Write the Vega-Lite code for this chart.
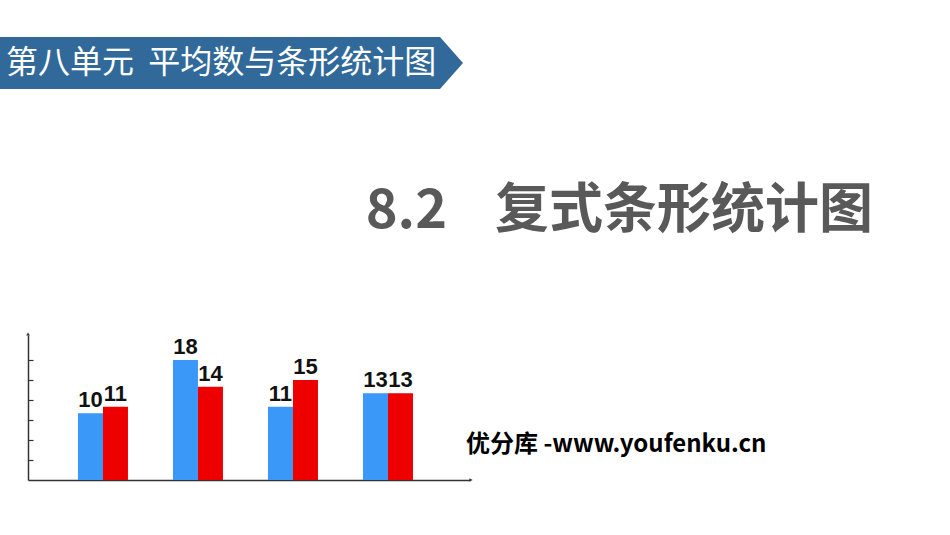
{
  "$schema": "https://vega.github.io/schema/vega-lite/v6.json",
  "autosize": "none",
  "width": 442,
  "height": 145,
  "padding": {"left": 28, "top": 335, "right": 480, "bottom": 55},
  "background": "white",
  "config": {"view": {"stroke": null}},
  "layer": [
    {
      "data": {"values": [
        {"group": "一", "series": "甲", "value": 10},
        {"group": "一", "series": "乙", "value": 11},
        {"group": "二", "series": "甲", "value": 18},
        {"group": "二", "series": "乙", "value": 14},
        {"group": "三", "series": "甲", "value": 11},
        {"group": "三", "series": "乙", "value": 15},
        {"group": "四", "series": "甲", "value": 13},
        {"group": "四", "series": "乙", "value": 13}
      ]},
      "encoding": {
        "x": {"field": "group", "type": "nominal", "sort": ["一", "二", "三", "四"],
              "scale": {"paddingInner": 0.4737, "paddingOuter": 0.563, "align": 0.467},
              "axis": {"title": null, "labels": false, "ticks": false, "domainColor": "#333333", "domainWidth": 1.5}},
        "xOffset": {"field": "series", "type": "nominal", "sort": ["甲", "乙"], "scale": {"paddingInner": 0, "paddingOuter": 0}},
        "y": {"field": "value", "type": "quantitative",
              "scale": {"domain": [0, 21.75], "nice": false, "zero": true},
              "axis": {"title": null, "labels": false, "grid": false, "values": [3, 6, 9, 12, 15, 18],
                       "tickSize": -5, "tickColor": "#333333", "tickWidth": 1.2,
                       "domainColor": "#333333", "domainWidth": 1.5}}
      },
      "layer": [
        {
          "mark": {"type": "bar"},
          "encoding": {
            "color": {"field": "series", "type": "nominal", "legend": null,
                      "scale": {"domain": ["甲", "乙"], "range": ["#3A98F8", "#EE0000"]}}
          }
        },
        {
          "mark": {"type": "text", "baseline": "bottom", "dy": -1, "font": "Liberation Sans", "fontWeight": "bold", "fontSize": 22, "color": "#111111"},
          "encoding": {"text": {"field": "value", "type": "quantitative"}}
        }
      ]
    },
    {
      "data": {"values": [{"label": "banner"}]},
      "mark": {"type": "point", "filled": true, "opacity": 1, "color": "#316A9A",
               "shape": "M-1,-0.1123L0.9006,-0.1123L1,0L0.9006,0.1123L-1,0.1123Z", "size": 214369},
      "encoding": {"x": {"value": 203.5}, "y": {"value": -272}}
    },
    {
      "data": {"values": [{"label": "第八单元\u00a0\u00a0平均数与条形统计图"}]},
      "mark": {"type": "text", "align": "left", "baseline": "middle", "font": "Noto Sans CJK SC", "fontSize": 32, "color": "white"},
      "encoding": {"text": {"field": "label"}, "x": {"value": -22}, "y": {"value": -272}}
    },
    {
      "data": {"values": [{"label": "8.2"}]},
      "mark": {"type": "text", "align": "right", "baseline": "middle", "font": "Noto Sans CJK SC", "fontWeight": "bold", "fontSize": 54, "color": "#595959"},
      "encoding": {"text": {"field": "label"}, "x": {"value": 419}, "y": {"value": -123}}
    },
    {
      "data": {"values": [{"label": "复式条形统计图"}]},
      "mark": {"type": "text", "align": "right", "baseline": "middle", "font": "Noto Sans CJK SC", "fontWeight": "bold", "fontSize": 54, "color": "#595959"},
      "encoding": {"text": {"field": "label"}, "x": {"value": 845}, "y": {"value": -123}}
    },
    {
      "data": {"values": [{"label": "优分库 -www.youfenku.cn"}]},
      "mark": {"type": "text", "align": "left", "baseline": "middle", "font": "Noto Sans CJK SC", "fontWeight": "bold", "fontSize": 24, "color": "#000000"},
      "encoding": {"text": {"field": "label"}, "x": {"value": 438}, "y": {"value": 110}}
    },
    {
      "data": {"values": [{"label": "y-arrow"}]},
      "mark": {"type": "point", "filled": true, "opacity": 1, "color": "#333333", "shape": "triangle-up", "size": 14},
      "encoding": {"x": {"value": 0}, "y": {"value": -1}}
    },
    {
      "data": {"values": [{"label": "x-arrow"}]},
      "mark": {"type": "point", "filled": true, "opacity": 1, "color": "#333333", "shape": "triangle-right", "size": 14},
      "encoding": {"x": {"value": 443}, "y": {"value": 145}}
    }
  ]
}
